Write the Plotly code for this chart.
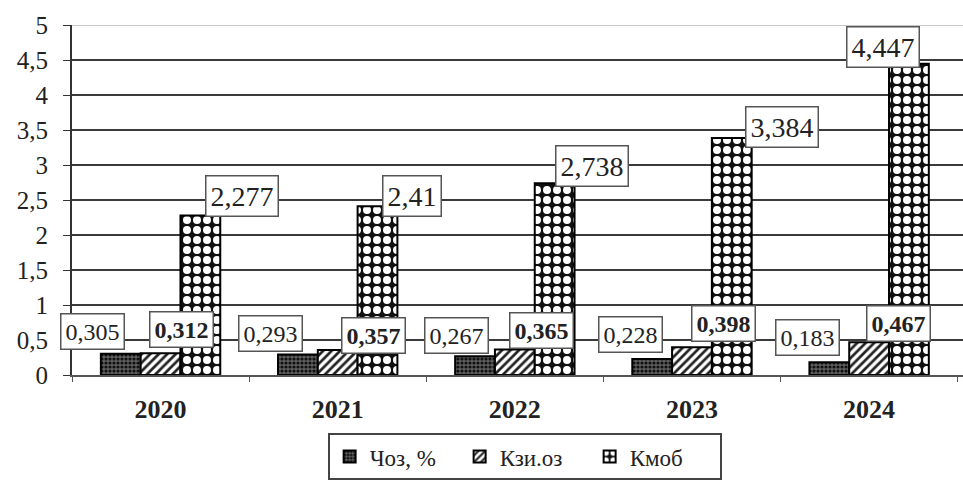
import plotly.graph_objects as go

# Data
years = ["2020", "2021", "2022", "2023", "2024"]
choz = [0.305, 0.293, 0.267, 0.228, 0.183]      # Чоз, %
kzi = [0.312, 0.357, 0.365, 0.398, 0.467]       # Кзи.оз
kmob = [2.277, 2.41, 2.738, 3.384, 4.447]       # Кмоб
series_names = ["Чоз, %", "Кзи.оз", "Кмоб"]

FONT = "Liberation Serif"

# Bar styles (fill patterns mimic monochrome print)
styles = [
    dict(color="#555555", pattern=dict(shape=".", fgcolor="#111111", bgcolor="#5f5f5f",
                                       size=4, solidity=0.5, fgopacity=1)),
    dict(color="white", pattern=dict(shape="/", fgcolor="#222222", bgcolor="white",
                                     size=6, solidity=0.45, fgopacity=1)),
    dict(color="black", pattern=dict(shape=".", fgcolor="white", bgcolor="#111111",
                                     size=10, solidity=0.5, fgopacity=1)),
]

# Pixel offsets of the value boxes from each bar top
label_dx = [[-28, -27, -19, -22, -22],
            [21, 36, 27, 32, 29],
            [42, 34, 37, 50, -26]]
label_dy = [[22, 21, 21, 25, 25],
            [24, 15, 19, 24, 19],
            [20, 10, 17, 11, 17]]
label_bold = [False, True, False]
label_size = [24, 24, 28]

fig = go.Figure()
all_series = [choz, kzi, kmob]
for name, vals, st in zip(series_names, all_series, styles):
    fig.add_trace(go.Bar(
        x=years, y=vals, name=name,
        marker=dict(color=st["color"], pattern=st["pattern"],
                    line=dict(color="black", width=2)),
    ))

bargap = 0.326
bar_w = (1 - bargap) / 3
annotations = []
for s, vals in enumerate(all_series):
    off = (s - 1) * bar_w
    for i, v in enumerate(vals):
        txt = str(v).replace(".", ",")
        if label_bold[s]:
            txt = f"<b>{txt}</b>"
        annotations.append(dict(
            x=i + off, y=v, xref="x", yref="y",
            text=txt, showarrow=False,
            xshift=label_dx[s][i], yshift=label_dy[s][i],
            font=dict(family=FONT, size=label_size[s], color="#222222"),
            bgcolor="white", bordercolor="#555555", borderwidth=1.5, borderpad=4,
        ))

fig.update_layout(
    width=963, height=483,
    margin=dict(l=72, r=0, t=25, b=108, autoexpand=False),
    paper_bgcolor="white", plot_bgcolor="white",
    separators=", ",
    barmode="group", bargap=bargap, bargroupgap=0,
    font=dict(family=FONT, color="#222222"),
    annotations=annotations,
    shapes=[dict(type="line", xref="paper", yref="y", x0=0, x1=1, y0=5, y1=5,
                 line=dict(color="#c8c8c8", width=2), layer="above")],
    legend=dict(
        orientation="h", x=0.508, xanchor="center", y=-0.166, yanchor="top",
        bordercolor="#444444", borderwidth=2, bgcolor="white",
        font=dict(family=FONT, size=23, color="#222222"),
        entrywidth=85, itemwidth=30, traceorder="normal",
    ),
    xaxis=dict(
        type="category", range=[-0.5, 4.53], autorange=False,
        showline=True, linecolor="#555555", linewidth=2,
        ticks="outside", tickson="boundaries", ticklen=5, tickcolor="#555555",
        tickfont=dict(family=FONT, size=26, color="#222222", weight="bold"),
        ticklabelstandoff=10, showgrid=False,
    ),
    yaxis=dict(
        range=[0, 5], autorange=False, dtick=0.5,
        showgrid=True, gridcolor="#3a3a3a", gridwidth=2,
        zeroline=False, showline=True, linecolor="#333333", linewidth=2,
        ticks="outside", ticklen=7, tickcolor="#333333",
        tickfont=dict(family=FONT, size=25, color="#222222"),
        ticklabelstandoff=10,
    ),
)

fig.write_html("out.html")
